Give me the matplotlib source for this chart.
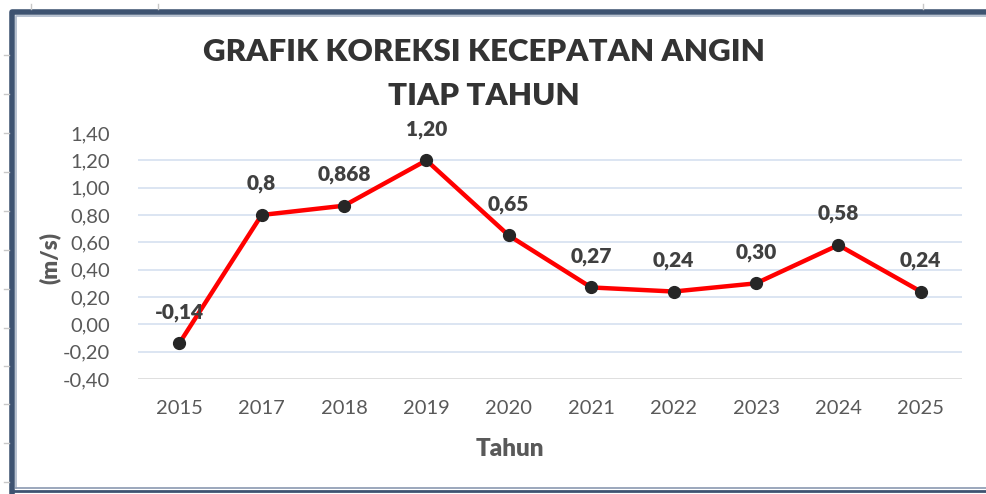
import matplotlib.pyplot as plt

# Data:
years = ["2015", "2017", "2018", "2019", "2020", "2021", "2022", "2023", "2024", "2025"]
values = [-0.14, 0.8, 0.868, 1.20, 0.65, 0.27, 0.24, 0.30, 0.58, 0.24]
labels = ["-0,14", "0,8", "0,868", "1,20", "0,65", "0,27", "0,24", "0,30", "0,58", "0,24"]
y_ticks = [-0.4, -0.2, 0.0, 0.2, 0.4, 0.6, 0.8, 1.0, 1.2, 1.4]

plt.rcParams["font.family"] = ["Lato", "DejaVu Sans"]

W, H = 986, 494
fig = plt.figure(figsize=(W / 100, H / 100), dpi=100)

# Frame / sheet background in pixel coords
bg = fig.add_axes([0, 0, 1, 1], zorder=0)
bg.set_xlim(0, W)
bg.set_ylim(H, 0)
bg.axis("off")
bg.plot([12, 12, W + 5], [H + 5, 12, 12], color="#3e5371", lw=4, solid_capstyle="butt")
bg.plot([12, W + 5], [490.5, 490.5], color="#3e5371", lw=2)
bg.plot([16, 16, W + 5], [488, 16, 16], color="#aab6c8", lw=1.2)
bg.plot([16, W + 5], [487.5, 487.5], color="#8a98b0", lw=1.2)
for yy in [55, 94, 133, 172, 211, 250, 289, 328, 366, 404, 443, 482]:
    bg.plot([4, 9], [yy, yy], color="#c8c8c8", lw=1)
for xx in [31, 158, 923]:
    bg.plot([xx, xx], [4, 9], color="#c8c8c8", lw=1)

ax = fig.add_axes([138 / W, 1 - 379 / H, (962 - 138) / W, (379 - 133) / H], zorder=1)
ax.patch.set_alpha(0)
x = list(range(len(years)))

for v in y_ticks[1:-1]:
    ax.axhline(v, color="#d6e0f0", lw=1.2, zorder=1)
ax.axhline(-0.4, color="#d9d9d9", lw=1.2, zorder=1)

ax.plot(x, values, color="#ff0000", lw=3.2, zorder=3,
        marker="o", markersize=8.5, markerfacecolor="#262626", markeredgecolor="#262626")

for xi, v, lab in zip(x, values, labels):
    ax.annotate(lab, (xi, v), xytext=(0, 22.5), textcoords="offset points",
                ha="center", va="center", fontsize=15, fontweight="heavy",
                color="#404040", zorder=4)

ax.set_xlim(-0.5, len(years) - 0.5)
ax.set_ylim(-0.4, 1.4)
ax.set_xticks(x)
ax.set_xticklabels(years)
ax.set_yticks(y_ticks)
ax.set_yticklabels([f"{v:.2f}".replace(".", ",") for v in y_ticks])
ax.tick_params(length=0, labelsize=14.5, labelcolor="#595959")
ax.tick_params(axis="x", pad=15)
ax.tick_params(axis="y", pad=20)
for s in ax.spines.values():
    s.set_visible(False)

fig.text(50 / W, 1 - 258 / H, "(m/s)", rotation=90, ha="center", va="center",
         fontsize=16, fontweight="heavy", color="#595959")
fig.text(510 / W, 1 - 449 / H, "Tahun", ha="center", va="center",
         fontsize=17.5, fontweight="heavy", color="#595959")
fig.text(484 / W, 1 - 52 / H, "GRAFIK KOREKSI KECEPATAN ANGIN", ha="center", va="center",
         fontsize=22.5, fontweight="heavy", color="#333333")
fig.text(484 / W, 1 - 96 / H, "TIAP TAHUN", ha="center", va="center",
         fontsize=22.5, fontweight="heavy", color="#333333")

fig.savefig("out.png", dpi=100)
